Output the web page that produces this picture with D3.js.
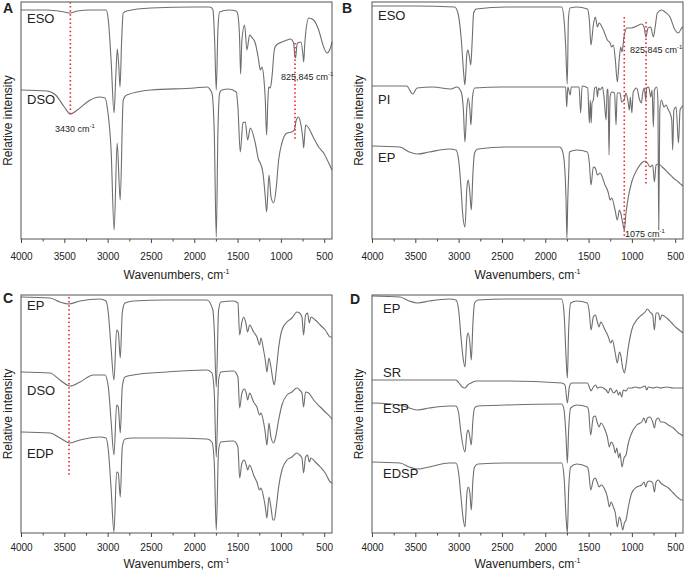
<!DOCTYPE html>
<html>
<head>
<meta charset="utf-8">
<script src="https://cdn.jsdelivr.net/npm/d3@7"></script>
<style>
body { margin: 0; background: #fff; }
svg text { font-family: "Liberation Sans", Arial, sans-serif; fill: #222; }
</style>
</head>
<body>
<svg id="chart" width="685" height="573"></svg>
<script>
// axis settings
var majorTicks = [4000, 3500, 3000, 2500, 2000, 1500, 1000, 500];
var minorTicks = [3750, 3250, 2750, 2250, 1750, 1250, 750];
var xDomain = [4000, 410];

// spectra: [wavenumber, relative intensity]
var aESO = [[4000,229],[3700,229],[3500,227],[3430,226],[3350,228],[3200,229],[3050,229],[3018,229],[2992,219],[2960,179],[2926,126],[2905,164],[2888,190],[2872,174],[2857,152],[2838,199],[2820,226],[2780,228],[2500,231],[2000,232],[1815,232],[1784,229],[1765,199],[1746,149],[1727,209],[1707,227],[1600,229],[1515,228],[1496,224],[1476,199],[1465,165],[1450,199],[1419,214],[1392,189],[1361,204],[1330,201],[1296,196],[1257,179],[1238,169],[1218,172],[1195,159],[1180,139],[1165,104],[1150,139],[1141,152],[1122,151],[1103,162],[1076,189],[1053,194],[988,197],[930,199],[891,200],[853,196],[840,184],[830,181],[815,194],[807,196],[768,197],[745,184],[737,177],[725,194],[714,206],[679,221],[622,219],[564,209],[506,192],[468,186],[429,191],[410,197]];

var aDSO = [[4000,149],[3700,148],[3600,144],[3500,132],[3430,125],[3350,129],[3200,139],[3100,142],[3030,141],[3000,129],[2960,89],[2925,9],[2890,96],[2855,39],[2820,139],[2780,144],[2500,149],[2000,151],[1854,152],[1796,146],[1769,106],[1746,2],[1727,106],[1707,146],[1680,149],[1603,150],[1515,147],[1496,132],[1469,87],[1438,116],[1411,117],[1384,99],[1353,111],[1296,96],[1257,79],[1238,76],[1207,66],[1180,42],[1165,27],[1137,64],[1114,42],[1083,36],[1053,52],[1026,79],[988,96],[930,106],[872,107],[845,109],[822,119],[799,122],[768,114],[745,99],[737,91],[725,104],[714,114],[679,111],[622,101],[564,92],[506,86],[448,76],[410,69]];

var bESO = [[4000,233],[3500,233],[3046,232],[3008,226],[2969,199],[2942,166],[2928,154],[2904,186],[2893,189],[2873,181],[2860,174],[2843,199],[2827,226],[2796,230],[2450,232],[1810,232],[1783,219],[1765,194],[1746,155],[1733,219],[1714,231],[1637,232],[1514,230],[1491,219],[1472,194],[1445,214],[1422,222],[1398,212],[1379,216],[1329,209],[1283,199],[1252,196],[1233,192],[1214,194],[1191,179],[1168,157],[1144,182],[1129,192],[1114,187],[1091,202],[1060,211],[1002,211],[944,213],[887,215],[860,212],[837,202],[814,211],[783,212],[752,202],[733,211],[706,226],[656,229],[617,227],[560,222],[502,209],[463,206],[425,211],[410,212]];

var bPI = [[4000,153],[3600,153],[3530,145],[3480,151],[3300,152],[3090,150],[3020,152],[2970,147],[2945,129],[2927,97],[2905,132],[2890,141],[2870,129],[2858,114],[2840,142],[2815,151],[2500,152],[1800,152],[1765,152],[1752,132],[1740,152],[1712,144],[1700,152],[1610,152],[1591,126],[1575,153],[1510,151],[1491,116],[1480,139],[1470,116],[1460,136],[1445,139],[1430,151],[1410,152],[1398,142],[1385,151],[1368,149],[1340,152],[1322,142],[1298,119],[1285,149],[1275,150],[1264,84],[1252,142],[1232,147],[1200,146],[1183,114],[1170,146],[1137,146],[1118,137],[1091,139],[1068,146],[1044,137],[1029,129],[1018,142],[1000,126],[985,147],[944,151],[914,140],[890,136],[875,146],[856,151],[840,139],[829,151],[806,152],[783,142],[767,149],[752,112],[740,149],[713,152],[700,139],[690,9],[678,129],[660,139],[629,132],[606,134],[579,129],[560,126],[540,119],[529,89],[515,129],[490,132],[462,96],[444,129],[425,132],[410,133]];

var bEP = [[4000,93],[3677,92],[3569,87],[3473,85],[3339,87],[3108,90],[3031,89],[3000,79],[2973,52],[2954,26],[2927,12],[2904,52],[2889,59],[2870,46],[2854,29],[2835,66],[2816,86],[2777,90],[2450,92],[1835,92],[1810,90],[1783,79],[1760,39],[1750,1],[1740,39],[1727,72],[1722,87],[1637,89],[1514,87],[1491,76],[1472,54],[1445,72],[1422,71],[1398,64],[1368,66],[1310,54],[1271,46],[1252,39],[1233,41],[1194,29],[1168,19],[1144,29],[1129,26],[1106,16],[1087,9],[1068,26],[1041,42],[1002,57],[944,69],[887,76],[848,78],[821,76],[791,72],[760,74],[740,57],[721,74],[694,75],[637,71],[579,66],[521,61],[463,57],[425,54],[410,53]];

var cEP = [[4000,236],[3665,235],[3550,231],[3454,229],[3319,232],[3088,234],[3019,232],[2992,220],[2961,186],[2927,153],[2896,203],[2877,201],[2854,175],[2831,220],[2800,230],[2704,232],[2320,233],[1854,233],[1785,223],[1769,203],[1746,146],[1719,223],[1692,231],[1546,232],[1496,230],[1476,198],[1450,211],[1430,216],[1404,210],[1384,201],[1361,208],[1315,201],[1277,196],[1246,188],[1230,195],[1200,183],[1180,173],[1161,161],[1138,175],[1115,166],[1092,153],[1076,148],[1053,163],[1026,185],[988,203],[930,211],[872,215],[815,221],[784,220],[757,216],[738,198],[715,218],[692,220],[672,210],[653,216],[603,213],[545,208],[488,203],[430,196],[411,196]];

var cDSO = [[4000,161],[3665,160],[3550,153],[3435,147],[3319,151],[3165,158],[3031,158],[2992,146],[2961,113],[2927,78],[2896,128],[2877,126],[2854,100],[2831,146],[2800,156],[2704,158],[2320,161],[1854,163],[1796,160],[1769,140],[1746,76],[1719,153],[1692,161],[1546,162],[1496,156],[1476,125],[1450,140],[1423,144],[1400,140],[1384,133],[1361,140],[1315,131],[1277,126],[1246,118],[1230,120],[1200,111],[1180,100],[1161,88],[1138,110],[1115,96],[1084,90],[1061,96],[1026,113],[988,128],[930,138],[872,141],[815,145],[784,143],[757,140],[738,126],[715,141],[680,140],[622,133],[545,126],[488,121],[430,116],[411,114]];

var cEDP = [[4000,101],[3665,100],[3550,95],[3435,90],[3319,93],[3088,96],[3019,95],[2992,83],[2961,46],[2927,1],[2896,61],[2877,60],[2854,36],[2831,86],[2800,94],[2704,95],[2320,95],[1854,94],[1796,91],[1769,70],[1746,3],[1719,83],[1692,91],[1546,92],[1496,86],[1476,55],[1450,70],[1423,73],[1400,68],[1384,63],[1361,68],[1315,58],[1277,51],[1246,43],[1230,45],[1200,36],[1180,26],[1161,15],[1138,36],[1115,26],[1092,13],[1076,13],[1053,26],[1026,46],[988,63],[930,73],[872,76],[815,80],[784,78],[757,75],[738,60],[715,76],[692,78],[672,71],[653,75],[603,71],[545,66],[488,60],[430,51],[411,50]];

var dEP = [[4000,237],[3677,236],[3569,232],[3473,230],[3339,232],[3108,234],[3031,233],[3000,223],[2973,196],[2950,176],[2927,166],[2904,196],[2889,200],[2870,190],[2854,173],[2835,210],[2816,230],[2777,233],[2450,234],[1810,234],[1783,220],[1760,176],[1745,155],[1730,203],[1706,230],[1637,232],[1514,230],[1491,220],[1472,203],[1445,216],[1422,218],[1398,211],[1379,206],[1360,211],[1310,203],[1271,196],[1245,190],[1225,193],[1194,181],[1168,170],[1144,181],[1129,178],[1106,165],[1087,160],[1068,168],[1041,186],[1002,203],[944,213],[887,218],[848,221],[821,224],[791,221],[760,218],[740,203],[721,220],[694,220],[675,213],[656,218],[598,215],[540,210],[483,205],[425,201],[410,200]];

var dSR = [[4000,153],[3300,153],[3031,153],[2996,150],[2958,146],[2927,145],[2895,148],[2858,150],[2835,151],[2800,152],[2450,152],[1810,150],[1772,148],[1745,130],[1722,146],[1695,150],[1514,150],[1491,146],[1472,142],[1445,146],[1418,148],[1398,145],[1368,146],[1329,145],[1298,143],[1271,140],[1252,145],[1233,143],[1214,140],[1194,141],[1175,143],[1156,138],[1137,141],[1118,136],[1098,143],[1068,142],[1041,145],[1002,145],[964,146],[906,145],[848,147],[829,143],[810,146],[752,145],[713,146],[675,145],[598,146],[521,145],[425,145],[410,145]];

var dESP = [[4000,130],[3677,128],[3569,125],[3473,123],[3339,125],[3108,127],[3031,127],[3000,120],[2973,100],[2927,81],[2904,100],[2889,103],[2870,96],[2854,88],[2835,113],[2816,125],[2777,127],[2450,128],[1810,129],[1783,123],[1760,96],[1745,70],[1730,103],[1706,125],[1637,128],[1514,126],[1498,121],[1476,98],[1445,116],[1422,117],[1398,110],[1379,106],[1356,110],[1310,103],[1283,96],[1260,86],[1241,91],[1214,88],[1191,80],[1175,85],[1152,75],[1137,80],[1114,66],[1091,75],[1068,78],[1041,90],[1002,100],[944,108],[887,111],[860,115],[840,110],[821,115],[791,116],[760,111],[740,105],[721,113],[694,115],[667,111],[637,111],[579,108],[521,105],[463,100],[425,98],[410,97]];

var dEDSP = [[4000,71],[3677,70],[3569,66],[3473,64],[3339,66],[3108,70],[3031,70],[3000,60],[2973,36],[2950,16],[2927,6],[2904,40],[2889,46],[2870,40],[2854,23],[2835,53],[2816,66],[2777,69],[2450,70],[1810,70],[1783,56],[1760,16],[1745,0],[1730,43],[1706,66],[1637,69],[1514,66],[1498,61],[1476,43],[1445,53],[1422,55],[1398,50],[1379,46],[1356,48],[1310,43],[1283,36],[1260,26],[1241,31],[1214,26],[1191,20],[1168,6],[1144,16],[1129,13],[1106,3],[1087,10],[1068,13],[1041,26],[1002,40],[944,46],[887,48],[860,51],[840,46],[821,51],[791,52],[760,50],[740,41],[721,51],[694,53],[667,50],[637,48],[579,45],[521,40],[463,35],[425,33],[410,33]];

// panel layout
var plotW = 311;
var panels = [
  { letter: 'A', left: 21, top: 2, bottom: 239, lx: 3, ly: 13, pad: 10, titleY: 279,
    traces: [{ name: 'ESO', data: aESO, tx: 27, ty: 23 }, { name: 'DSO', data: aDSO, tx: 27, ty: 104 }],
    guides: [[3430, 237, 124], [837, 196, 99]],
    notes: [{ text: '3430 cm', x: 55, y: 132 }, { text: '825,845 cm', x: 281, y: 80 }] },
  { letter: 'B', left: 372, top: 2, bottom: 239, lx: 342, ly: 13, pad: 10, titleY: 279,
    traces: [{ name: 'ESO', data: bESO, tx: 378, ty: 20 }, { name: 'PI', data: bPI, tx: 378, ty: 104 }, { name: 'EP', data: bEP, tx: 378, ty: 162 }],
    guides: [[1088, 222, 2], [837, 217, 54]],
    notes: [{ text: '825,845 cm', x: 630, y: 53 }, { text: '1075 cm', x: 625, y: 237 }] },
  { letter: 'C', left: 21, top: 295, bottom: 533, lx: 3, ly: 303, pad: 7, titleY: 568,
    traces: [{ name: 'EP', data: cEP, tx: 27, ty: 310 }, { name: 'DSO', data: cDSO, tx: 27, ty: 395 }, { name: 'EDP', data: cEDP, tx: 27, ty: 458 }],
    guides: [[3446, 236, 58]],
    notes: [] },
  { letter: 'D', left: 372, top: 295, bottom: 533, lx: 350, ly: 304, pad: 7, titleY: 568,
    traces: [{ name: 'EP', data: dEP, tx: 383, ty: 313 }, { name: 'SR', data: dSR, tx: 383, ty: 377 }, { name: 'ESP', data: dESP, tx: 383, ty: 413 }, { name: 'EDSP', data: dEDSP, tx: 383, ty: 478 }],
    guides: [],
    notes: [] }
];

var svg = d3.select('#chart');

panels.forEach(function(p) {
  var x = d3.scaleLinear().domain(xDomain).range([p.left, p.left + plotW]);
  var y = d3.scaleLinear().domain([0, p.bottom - p.top]).range([p.bottom, p.top]);
  var g = svg.append('g');

  // minor + major ticks
  g.append('g')
    .attr('transform', 'translate(0,' + p.bottom + ')')
    .call(d3.axisBottom(x).tickValues(minorTicks).tickSize(2.5).tickFormat(''))
    .call(function(a) { a.select('.domain').remove(); a.selectAll('line').attr('stroke', '#444'); });

  g.append('g')
    .attr('transform', 'translate(0,' + p.bottom + ')')
    .call(d3.axisBottom(x).tickValues(majorTicks).tickSize(4).tickPadding(p.pad).tickFormat(d3.format('d')))
    .call(function(a) {
      a.select('.domain').remove();
      a.selectAll('line').attr('stroke', '#444');
      a.selectAll('text').attr('font-size', '10px').attr('font-family', '"Liberation Sans", Arial, sans-serif').attr('fill', '#222');
    });

  var line = d3.line()
    .x(function(d) { return x(d[0]); })
    .y(function(d) { return y(d[1]); })
    .curve(d3.curveMonotoneX);

  g.selectAll('path.spec')
    .data(p.traces)
    .enter()
    .append('path')
      .attr('class', 'spec')
      .attr('d', function(d) { return line(d.data); })
      .attr('fill', 'none')
      .attr('stroke', '#6e6e6e')
      .attr('stroke-width', 1.1)
      .attr('stroke-linejoin', 'round');

  // red dotted guides
  g.selectAll('line.guide')
    .data(p.guides)
    .enter()
    .append('line')
      .attr('class', 'guide')
      .attr('x1', function(d) { return x(d[0]); })
      .attr('x2', function(d) { return x(d[0]); })
      .attr('y1', function(d) { return y(d[1]); })
      .attr('y2', function(d) { return y(d[2]); })
      .attr('stroke', '#e8262b')
      .attr('stroke-width', 1.6)
      .attr('stroke-dasharray', '1.5,2.6');

  var notes = g.selectAll('text.note')
    .data(p.notes)
    .enter()
    .append('text')
      .attr('class', 'note')
      .attr('x', function(d) { return d.x; })
      .attr('y', function(d) { return d.y; })
      .attr('font-size', '9px')
      .text(function(d) { return d.text; });
  notes.append('tspan')
    .attr('dy', -4)
    .attr('font-size', '6px')
    .text('-1');

  // frame
  g.append('rect')
    .attr('x', p.left)
    .attr('y', p.top)
    .attr('width', plotW)
    .attr('height', p.bottom - p.top)
    .attr('fill', 'none')
    .attr('stroke', '#555')
    .attr('stroke-width', 1);

  // series names
  g.selectAll('text.sname')
    .data(p.traces)
    .enter()
    .append('text')
      .attr('class', 'sname')
      .attr('x', function(d) { return d.tx; })
      .attr('y', function(d) { return d.ty; })
      .attr('font-size', '13px')
      .text(function(d) { return d.name; });

  // panel letter
  g.append('text')
    .attr('x', p.lx)
    .attr('y', p.ly)
    .attr('font-size', '14px')
    .attr('font-weight', 'bold')
    .text(p.letter);

  // axis titles
  var xt = g.append('text')
    .attr('x', p.left + plotW / 2)
    .attr('y', p.titleY)
    .attr('text-anchor', 'middle')
    .attr('font-size', '12px')
    .text('Wavenumbers, cm');
  xt.append('tspan')
    .attr('dy', -5)
    .attr('font-size', '7px')
    .text('-1');

  g.append('text')
    .attr('transform', 'translate(' + (p.left - 9) + ',' + ((p.top + p.bottom) / 2) + ') rotate(-90)')
    .attr('text-anchor', 'middle')
    .attr('font-size', '12px')
    .text('Relative intensity');
});
</script>
</body>
</html>
